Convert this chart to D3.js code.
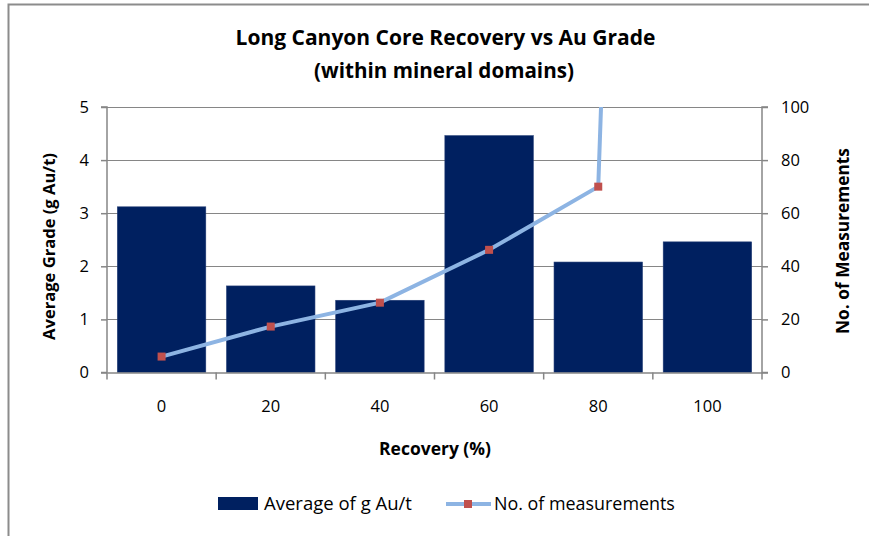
<!DOCTYPE html>
<html><head><meta charset="utf-8">
<script src="https://cdn.jsdelivr.net/npm/d3@7"></script>
<style>body{margin:0;background:#fff}svg{display:block}text{font-family:"Open Sans",Lato,sans-serif;fill:#000}</style>
</head><body><svg id="c" width="869" height="536"></svg>
<script>
const categories = ["0","20","40","60","80","100"];
const gradeValues = [3.12, 1.63, 1.36, 4.46, 2.08, 2.46];
const measurementValues = [6, 17.3, 26.3, 46.2, 70, 1250];
const leftTicks = [0,1,2,3,4,5];
const rightTicks = [0,20,40,60,80,100];

const svg = d3.select("#c");
const L = 107, R = 762, T = 107, B = 372.5;
const x = d3.scaleBand().domain(categories).range([L, R]).paddingInner(0.19).paddingOuter(0.095);
const xs = d3.scaleBand().domain(categories).range([L, R]);
const yL = d3.scaleLinear().domain([0,5]).range([B, T]);
const yR = d3.scaleLinear().domain([0,100]).range([B, T]);

function fit(sel, w){ // scale font-size so the text is w px wide
  sel.each(function(){
    const fs = parseFloat(this.getAttribute("font-size"));
    const cw = this.getComputedTextLength();
    this.setAttribute("font-size", (fs*w/cw).toFixed(2));
  });
  return sel;
}

// border
svg.append("path").attr("d", `M8.5,536 V4.5 H869`).attr("fill","none").attr("stroke","#8c8c8c").attr("stroke-width",2);

// gridlines
svg.append("g").selectAll("line").data(leftTicks.slice(1)).join("line")
  .attr("x1", L).attr("x2", R).attr("y1", d=>Math.round(yL(d))+0.5).attr("y2", d=>Math.round(yL(d))+0.5)
  .attr("stroke","#868686").attr("stroke-width",1);

// bars
svg.append("g").selectAll("rect").data(gradeValues).join("rect")
  .attr("x",(d,i)=>x(categories[i])).attr("width",x.bandwidth())
  .attr("y",d=>yL(d)).attr("height",d=>B-yL(d))
  .attr("fill","#002060").attr("stroke","#1f3a73").attr("stroke-width",0.6);

// axes
const axisColor = "#868686";
const gl = svg.append("g").attr("transform",`translate(${L},0)`).call(d3.axisLeft(yL).tickValues(leftTicks).tickFormat(d3.format("d")).tickSize(6).tickPadding(12));
const gr = svg.append("g").attr("transform",`translate(${R},0)`).call(d3.axisRight(yR).tickValues(rightTicks).tickSize(6).tickPadding(13));
const gx = svg.append("g").attr("transform",`translate(0,${B})`).call(d3.axisBottom(xs).tickSize(0).tickPadding(28));
[gl,gr,gx].forEach(g=>{
  g.select(".domain").attr("stroke",axisColor).attr("stroke-width",1.5);
  g.selectAll(".tick line").attr("stroke",axisColor).attr("stroke-width",1.5);
  g.selectAll(".tick text").attr("font-size",16.5).attr("font-family","'Open Sans', sans-serif").attr("fill","#000");
});
gl.select(".domain").attr("d",`M-6,${T}H0V${B}H-6`);
gr.select(".domain").attr("d",`M6,${T}H0V${B}H6`);
// x boundary ticks
svg.append("g").selectAll("line").data(d3.range(categories.length+1)).join("line")
  .attr("x1",i=>L+i*xs.step()).attr("x2",i=>L+i*xs.step()).attr("y1",B).attr("y2",B+7)
  .attr("stroke",axisColor).attr("stroke-width",1.5);

// line
const clipId = "plotclip";
svg.append("clipPath").attr("id",clipId).append("rect").attr("x",0).attr("y",T).attr("width",869).attr("height",B-T+20);
const cx = i => xs(categories[i]) + xs.bandwidth()/2;
const line = d3.line().x((d,i)=>cx(i)).y(d=>yR(d));
svg.append("path").datum(measurementValues).attr("d",line).attr("fill","none")
  .attr("stroke","#8db4e3").attr("stroke-width",4).attr("clip-path",`url(#${clipId})`);
svg.append("g").selectAll("rect").data(measurementValues.filter(v=>v<=100)).join("rect")
  .attr("x",(d,i)=>cx(i)-4).attr("y",d=>yR(d)-4).attr("width",8).attr("height",8).attr("fill","#c0504d");

// titles
fit(svg.append("text").attr("x",445.5).attr("y",44.5).attr("text-anchor","middle").attr("font-size",20).attr("font-weight","bold").text("Long Canyon Core Recovery vs Au Grade"),420);
fit(svg.append("text").attr("x",444).attr("y",78).attr("text-anchor","middle").attr("font-size",20).attr("font-weight","bold").text("(within mineral domains)"),260);
fit(svg.append("text").attr("x",435).attr("y",455).attr("text-anchor","middle").attr("font-size",15).attr("font-weight","bold").text("Recovery (%)"),112);
fit(svg.append("text").attr("transform","translate(55,246.5) rotate(-90)").attr("text-anchor","middle").attr("font-size",15).attr("font-weight","bold").text("Average Grade  (g Au/t)"),187);
fit(svg.append("text").attr("transform","translate(849,241) rotate(-90)").attr("text-anchor","middle").attr("font-size",15).attr("font-weight","bold").text("No. of Measurements"),186);

// legend
svg.append("rect").attr("x",218).attr("y",497).attr("width",40).attr("height",13).attr("fill","#002060");
fit(svg.append("text").attr("x",264).attr("y",510).attr("font-size",16).text("Average of g Au/t"),148);
svg.append("line").attr("x1",446).attr("x2",491).attr("y1",504).attr("y2",504).attr("stroke","#8db4e3").attr("stroke-width",4);
svg.append("rect").attr("x",464).attr("y",500).attr("width",8).attr("height",8).attr("fill","#c0504d");
fit(svg.append("text").attr("x",494).attr("y",510).attr("font-size",16).text("No. of measurements"),181);
</script></body></html>
